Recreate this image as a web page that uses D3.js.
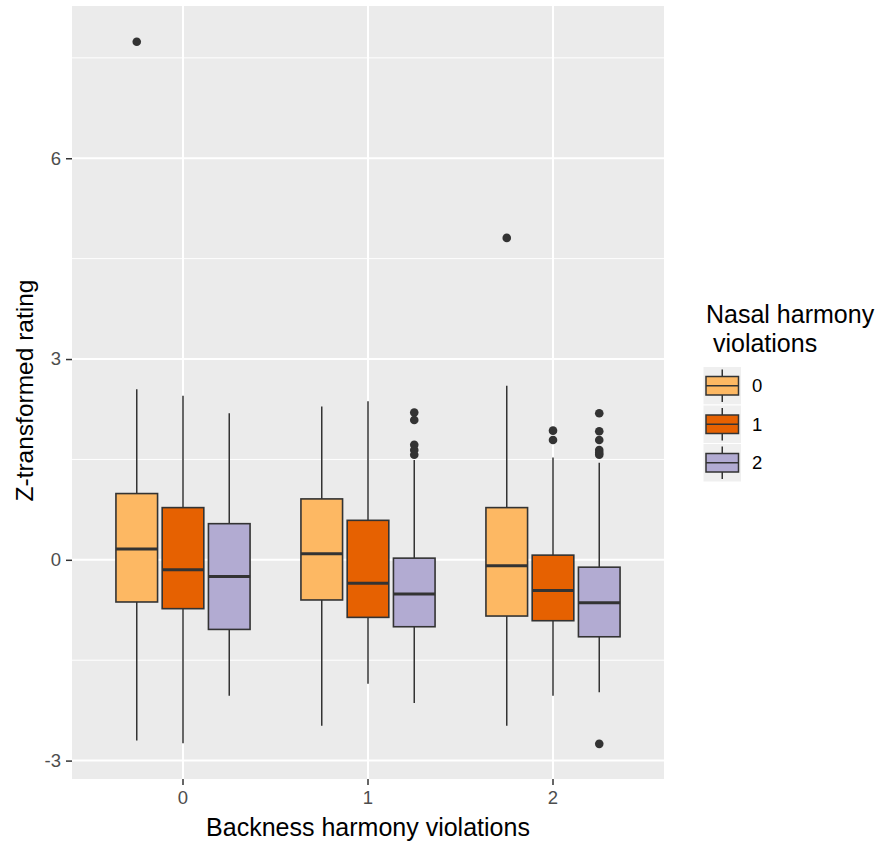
<!DOCTYPE html>
<html>
<head>
<meta charset="utf-8">
<script src="https://cdn.jsdelivr.net/npm/d3@7"></script>
<style>
  body { margin: 0; background: #fff; }
  svg { display: block; font-family: "Liberation Sans", Arial, sans-serif; }
</style>
</head>
<body>
<div id="chart"></div>
<script>
// categories
var backness = ["0", "1", "2"];
var nasal = ["0", "1", "2"];
var nasalColors = ["#FDB863", "#E66101", "#B2ABD2"];
var yTicks = [-3, 0, 3, 6];

// box stats, indexed [backness][nasal]
var whiskerLow = [[-2.70, -2.74, -2.03], [-2.48, -1.85, -2.14], [-2.48, -2.03, -1.98]];
var q1 = [[-0.63, -0.73, -1.04], [-0.60, -0.86, -1.00], [-0.84, -0.91, -1.15]];
var median = [[0.16, -0.15, -0.25], [0.09, -0.35, -0.51], [-0.09, -0.46, -0.64]];
var q3 = [[0.99, 0.78, 0.54], [0.91, 0.59, 0.025], [0.78, 0.07, -0.11]];
var whiskerHigh = [[2.55, 2.45, 2.19], [2.29, 2.37, 1.49], [2.60, 1.53, 1.45]];

// outliers: [backness, nasal, value]
var outliers = [
  [0, 0, 7.74],
  [1, 2, 2.20], [1, 2, 2.09], [1, 2, 1.72], [1, 2, 1.64], [1, 2, 1.57],
  [2, 0, 4.81],
  [2, 1, 1.93], [2, 1, 1.79],
  [2, 2, 2.19], [2, 2, 1.92], [2, 2, 1.79], [2, 2, 1.64], [2, 2, 1.60], [2, 2, 1.57], [2, 2, -2.75]
];

var W = 876, H = 845;
var panel = {left: 72, right: 664, top: 6, bottom: 779};

var svg = d3.select("#chart").append("svg")
  .attr("width", W)
  .attr("height", H);

var x = d3.scaleBand()
  .domain(backness)
  .range([panel.left, panel.right])
  .paddingInner(0)
  .paddingOuter(0.1);

var step = x.step();
var xSub = d3.scaleBand()
  .domain(nasal)
  .range([-0.375 * step, 0.375 * step]);
var boxW = xSub.bandwidth() * 0.9;

var y = d3.scaleLinear()
  .domain([-3.275, 8.275])
  .range([panel.bottom, panel.top]);

function cx(b, n) {
  return x(backness[b]) + x.bandwidth() / 2 + xSub(nasal[n]) + xSub.bandwidth() / 2;
}

// panel background
svg.append("rect")
  .attr("x", panel.left)
  .attr("y", panel.top)
  .attr("width", panel.right - panel.left)
  .attr("height", panel.bottom - panel.top)
  .attr("fill", "#EBEBEB");

// minor grid
var minor = [-1.5, 1.5, 4.5, 7.5];
svg.selectAll("line.minor")
  .data(minor)
  .enter().append("line")
  .attr("x1", panel.left).attr("x2", panel.right)
  .attr("y1", function(d) { return y(d); })
  .attr("y2", function(d) { return y(d); })
  .attr("stroke", "#fff")
  .attr("stroke-width", 1);

// major grid
svg.selectAll("line.majorY")
  .data(yTicks)
  .enter().append("line")
  .attr("x1", panel.left).attr("x2", panel.right)
  .attr("y1", function(d) { return y(d); })
  .attr("y2", function(d) { return y(d); })
  .attr("stroke", "#fff")
  .attr("stroke-width", 2);

svg.selectAll("line.majorX")
  .data(backness)
  .enter().append("line")
  .attr("x1", function(d) { return x(d) + x.bandwidth() / 2; })
  .attr("x2", function(d) { return x(d) + x.bandwidth() / 2; })
  .attr("y1", panel.top).attr("y2", panel.bottom)
  .attr("stroke", "#fff")
  .attr("stroke-width", 2);

// boxes
var boxes = [];
backness.forEach(function(b, i) {
  nasal.forEach(function(n, j) {
    boxes.push({b: i, n: j});
  });
});

var g = svg.append("g");
boxes.forEach(function(d) {
  var c = cx(d.b, d.n);
  var i = d.b, j = d.n;
  g.append("line")
    .attr("x1", c).attr("x2", c)
    .attr("y1", y(whiskerHigh[i][j])).attr("y2", y(q3[i][j]))
    .attr("stroke", "#333").attr("stroke-width", 1.5);
  g.append("line")
    .attr("x1", c).attr("x2", c)
    .attr("y1", y(q1[i][j])).attr("y2", y(whiskerLow[i][j]))
    .attr("stroke", "#333").attr("stroke-width", 1.5);
  g.append("rect")
    .attr("x", c - boxW / 2)
    .attr("y", y(q3[i][j]))
    .attr("width", boxW)
    .attr("height", y(q1[i][j]) - y(q3[i][j]))
    .attr("fill", nasalColors[j])
    .attr("stroke", "#333").attr("stroke-width", 1.6);
  g.append("line")
    .attr("x1", c - boxW / 2).attr("x2", c + boxW / 2)
    .attr("y1", y(median[i][j])).attr("y2", y(median[i][j]))
    .attr("stroke", "#333").attr("stroke-width", 3);
});

g.selectAll("circle")
  .data(outliers)
  .enter().append("circle")
  .attr("cx", function(d) { return cx(d[0], d[1]); })
  .attr("cy", function(d) { return y(d[2]); })
  .attr("r", 4.3)
  .attr("fill", "#333");

// y axis (plain hyphen for negatives, as in the original)
var yAxis = d3.axisLeft(y).tickValues(yTicks).tickSize(6).tickPadding(5)
  .tickFormat(function(d) { return String(d); });
var ya = svg.append("g")
  .attr("transform", "translate(" + panel.left + ",0)")
  .call(yAxis);
ya.select(".domain").remove();
ya.selectAll(".tick line").attr("stroke", "#333").attr("stroke-width", 1.5);
ya.selectAll(".tick text")
  .attr("fill", "#4D4D4D")
  .style("font-size", "18.5px")
  .style("font-family", "Liberation Sans, Arial, sans-serif");

// x axis
var xAxis = d3.axisBottom(x).tickSize(6).tickPadding(6);
var xa = svg.append("g")
  .attr("transform", "translate(0," + panel.bottom + ")")
  .call(xAxis);
xa.select(".domain").remove();
xa.selectAll(".tick line").attr("stroke", "#333").attr("stroke-width", 1.5);
xa.selectAll(".tick text")
  .attr("fill", "#4D4D4D")
  .style("font-size", "18.5px")
  .style("font-family", "Liberation Sans, Arial, sans-serif");

// axis titles
svg.append("text")
  .attr("x", (panel.left + panel.right) / 2)
  .attr("y", 836)
  .attr("text-anchor", "middle")
  .style("font-size", "25px")
  .attr("fill", "#000")
  .text("Backness harmony violations");

svg.append("text")
  .attr("transform", "translate(33," + ((panel.top + panel.bottom) / 2 - 2) + ") rotate(-90)")
  .attr("text-anchor", "middle")
  .style("font-size", "24.5px")
  .attr("fill", "#000")
  .text("Z-transformed rating");

// legend
var lg = svg.append("g").attr("transform", "translate(703,0)");
lg.append("text")
  .attr("x", 3).attr("y", 323)
  .style("font-size", "25px")
  .text("Nasal harmony");
lg.append("text")
  .attr("x", 3).attr("y", 352)
  .style("font-size", "25px")
  .style("white-space", "pre")
  .text(" violations");

var keySize = 38.5, keyTop = 366.5;
nasal.forEach(function(n, j) {
  var top = keyTop + j * keySize;
  var kc = keySize / 2;
  var k = lg.append("g").attr("transform", "translate(0," + top + ")");
  k.append("rect")
    .attr("x", 0).attr("y", 0)
    .attr("width", keySize).attr("height", keySize)
    .attr("fill", "#EFEFEF")
    .attr("stroke", "#fff").attr("stroke-width", 1);
  k.append("line")
    .attr("x1", kc).attr("x2", kc)
    .attr("y1", 3).attr("y2", keySize - 3)
    .attr("stroke", "#333").attr("stroke-width", 1.5);
  k.append("rect")
    .attr("x", 3).attr("y", 10)
    .attr("width", keySize - 6).attr("height", keySize - 20)
    .attr("fill", nasalColors[j])
    .attr("stroke", "#333").attr("stroke-width", 1.5);
  k.append("line")
    .attr("x1", 3).attr("x2", keySize - 3)
    .attr("y1", kc).attr("y2", kc)
    .attr("stroke", "#333").attr("stroke-width", 1.5);
  k.append("text")
    .attr("x", 49).attr("y", kc)
    .attr("dy", "0.36em")
    .style("font-size", "18.5px")
    .attr("fill", "#000")
    .text(n);
});
</script>
</body>
</html>
